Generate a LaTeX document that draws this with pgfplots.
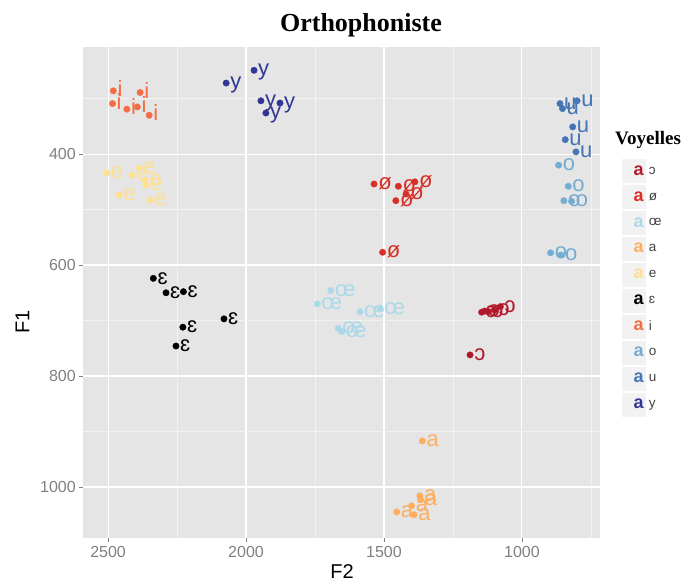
\documentclass[border=0pt]{standalone}
\usepackage{fontspec}
\setmainfont{Liberation Serif}
\setsansfont{Liberation Sans}
\usepackage{pgfplots}
\pgfplotsset{compat=1.18}
\definecolor{bggray}{HTML}{E5E5E5}
\definecolor{gridminor}{HTML}{F2F2F2}
\definecolor{keybg}{HTML}{F2F2F2}
\definecolor{cOo}{HTML}{B2182B}
\definecolor{cOs}{HTML}{D73027}
\definecolor{cOe}{HTML}{ABD9E9}
\definecolor{cA}{HTML}{FDAE61}
\definecolor{cE}{HTML}{FEE090}
\definecolor{cEps}{HTML}{000000}
\definecolor{cI}{HTML}{F46D43}
\definecolor{cO}{HTML}{74ADD1}
\definecolor{cU}{HTML}{4575B4}
\definecolor{cY}{HTML}{313695}
\newcommand{\labfont}{\fontsize{22}{22}\selectfont\sffamily}
\newcommand{\keyfont}{\fontsize{18}{18}\selectfont\sffamily\bfseries}
\pgfplotsset{
  vow/.style 2 args={only marks, mark=*, mark size=3.2pt, color=#1,
    mark options={draw=#1, fill=#1},
    nodes near coords={#2},
    every node near coord/.append style={anchor=base west, xshift=4pt, yshift=-5.7pt, inner sep=0pt, font=\labfont, text=#1},
    forget plot},
  key/.style={legend image code/.code={\fill[keybg] (0pt,-11.5pt) rectangle (23pt,11.5pt);
    \node[inner sep=0pt, text=#1, font=\keyfont] at (11.5pt,0pt) {a};}}
}
\begin{document}
\begin{tikzpicture}
\path[use as bounding box] (-83pt,-46pt) rectangle (608pt,538pt);
\begin{axis}[
  at={(0pt,0pt)}, anchor=south west,
  scale only axis, width=517pt, height=491pt,
  x dir=reverse, y dir=reverse,
  xmin=717, xmax=2591, ymin=207, ymax=1092,
  axis background/.style={fill=bggray},
  axis line style={draw=none},
  xtick={1000,1500,2000,2500}, ytick={400,600,800,1000},
  minor xtick={750,1250,1750,2250}, minor ytick={300,500,700,900},
  grid=both,
  major grid style={white, line width=1.1pt},
  minor grid style={gridminor, line width=0.5pt},
  xtick pos=bottom, ytick pos=left,
  tick align=outside, major tick length=4pt, minor tick length=0pt,
  tick style={black!50, line width=0.8pt},
  ticklabel style={font=\fontsize{16}{16}\selectfont\sffamily, text=black!50},
  /pgf/number format/assume math mode=true,
  /pgf/number format/set thousands separator={},
  xticklabel style={anchor=north, inner sep=0pt, yshift=-4pt},
  yticklabel style={anchor=east, inner sep=0pt, xshift=-3pt},
  clip=false,
  legend style={at={(1.0426,0.7709)}, anchor=north west, draw=none, fill=none,
    inner sep=0pt, outer sep=0pt, row sep=2.5pt,
    font=\fontsize{13.5}{13.5}\selectfont\sffamily, text=black!75,
    nodes={inner sep=0pt},
    /tikz/every odd column/.style={column sep=3.5pt}},
  legend cell align=left,
]
\addplot[vow={cOo}{ɔ}] coordinates {(1146,685) (1135,683) (1122,684) (1100,681) (1078,675) (1188,762)};
\addplot[vow={cOs}{ø}] coordinates {(1536,454) (1448,458) (1388,450) (1420,472) (1457,484) (1505,577)};
\addplot[vow={cOe}{œ}] coordinates {(1693,646) (1742,670) (1587,684) (1514,678) (1666,714) (1653,720)};
\addplot[vow={cA}{a}] coordinates {(1361,917) (1370,1016) (1367,1023) (1400,1034) (1454,1045) (1391,1050)};
\addplot[vow={cE}{e}] coordinates {(2505,434) (2414,438) (2387,425) (2366,447) (2363,456) (2460,474) (2348,483)};
\addplot[vow={cEps}{ɛ}] coordinates {(2336,624) (2290,650) (2227,648) (2080,697) (2229,712) (2254,746)};
\addplot[vow={cI}{i}] coordinates {(2481,286) (2384,289) (2484,309) (2432,319) (2394,315) (2351,330)};
\addplot[vow={cO}{o}] coordinates {(867,420) (832,458) (848,484) (820,485) (896,578) (859,582)};
\addplot[vow={cU}{u}] coordinates {(862,309) (853,318) (800,304) (816,351) (843,374) (804,396)};
\addplot[vow={cY}{y}] coordinates {(2072,272) (1971,249) (1946,304) (1877,308) (1928,326)};
\addlegendimage{key=cOo}\addlegendentry{ɔ}
\addlegendimage{key=cOs}\addlegendentry{ø}
\addlegendimage{key=cOe}\addlegendentry{œ}
\addlegendimage{key=cA}\addlegendentry{a}
\addlegendimage{key=cE}\addlegendentry{e}
\addlegendimage{key=cEps}\addlegendentry{ɛ}
\addlegendimage{key=cI}\addlegendentry{i}
\addlegendimage{key=cO}\addlegendentry{o}
\addlegendimage{key=cU}\addlegendentry{u}
\addlegendimage{key=cY}\addlegendentry{y}
\end{axis}
\node[anchor=base, inner sep=0pt, font=\fontsize{26}{26}\selectfont\bfseries] at (278pt,506pt) {Orthophoniste};
\node[anchor=west, inner sep=0pt, font=\fontsize{19}{19}\selectfont\bfseries] at (532pt,398pt) {Voyelles};
\node[inner sep=0pt, font=\fontsize{20}{20}\selectfont\sffamily] at (259pt,-34pt) {F2};
\node[inner sep=0pt, rotate=90, font=\fontsize{20}{20}\selectfont\sffamily] at (-60.5pt,216pt) {F1};
\end{tikzpicture}
\end{document}
